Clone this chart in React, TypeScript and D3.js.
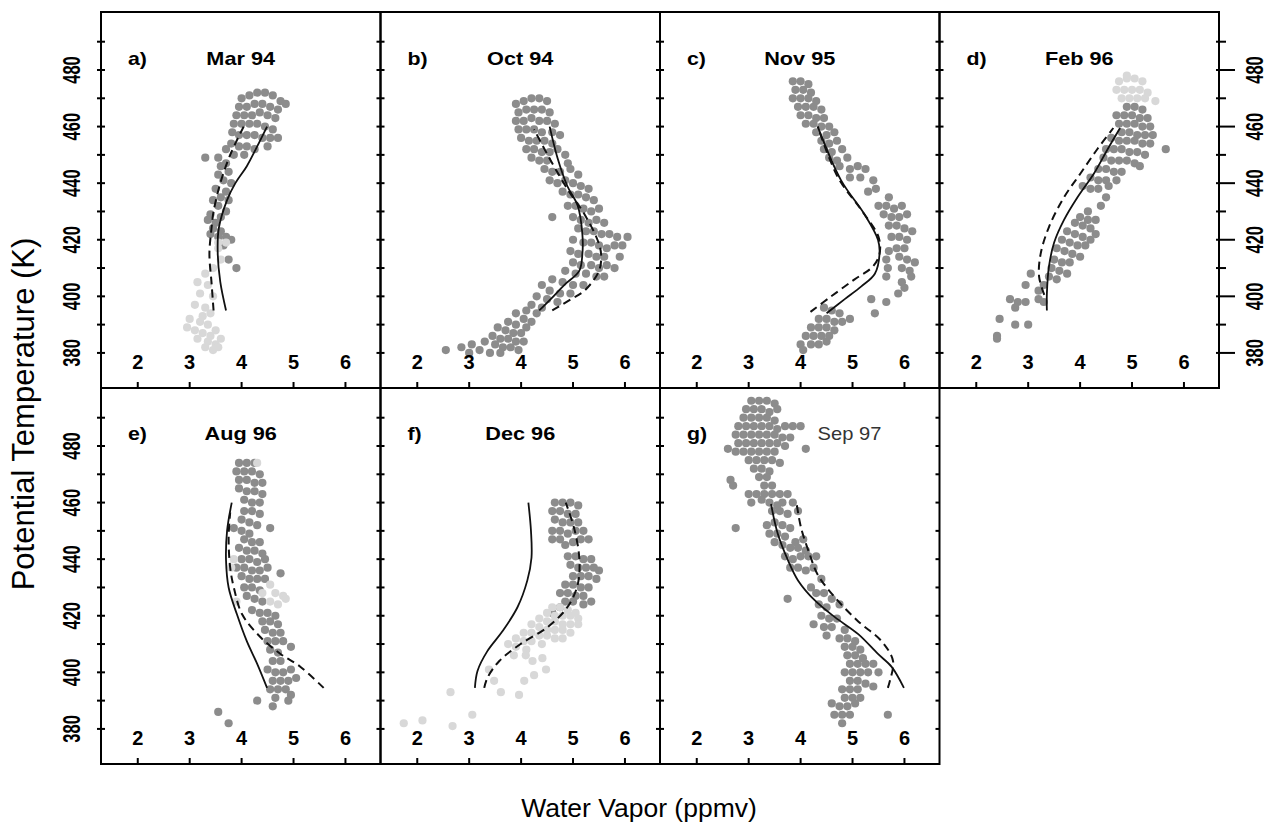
import React from 'react';
import * as d3 from 'd3';

type Pt = [number, number];

// ---- labels / ticks ----
const panelLetters = ['a)', 'b)', 'c)', 'd)', 'e)', 'f)', 'g)'];
const panelTitles = ['Mar 94', 'Oct 94', 'Nov 95', 'Feb 96', 'Aug 96', 'Dec 96', 'Sep 97'];
const xTicks = [2, 3, 4, 5, 6];
const yLabelTicks = [380, 400, 420, 440, 460, 480];
const yTicks = [380, 390, 400, 410, 420, 430, 440, 450, 460, 470, 480, 490];

// ---- a) Mar 94 ----
const marDark: Pt[] = [
  [4.0,470],[4.15,471],[4.3,472],[4.45,472],[4.6,471],[4.75,469],[4.85,468],[3.95,467],[4.1,467],[4.25,468],
  [4.4,468],[4.55,467],[4.7,466],[3.9,464],[4.05,464],[4.2,464],[4.35,465],[4.5,464],[4.65,463],[3.85,461],
  [4.0,461],[4.15,461],[4.3,461],[4.45,460],[4.6,459],[3.82,458],[3.95,457],[4.1,457],[4.25,457],[4.4,456],
  [4.55,456],[4.7,456],[3.8,454],[3.95,453],[4.1,453],[4.25,452],[4.5,453],[3.7,452],[3.85,450],[4.05,450],
  [3.3,449],[3.55,449],[3.7,447],[3.6,446],[3.75,444],[3.55,443],[3.65,441],[3.8,440],[3.5,438],[3.7,437],
  [3.6,435],[3.45,434],[3.75,434],[3.55,432],[3.7,430],[3.4,429],[3.6,428],[3.35,427],[3.5,426],[3.45,424],
  [3.6,423],[3.4,422],[3.55,421],[3.7,421],[3.8,420],[3.65,418],[3.75,413],[3.9,410],
];
const marLight: Pt[] = [
  [3.55,417],[3.6,413],[3.45,410],[3.3,408],[3.15,405],[3.35,404],[3.2,401],[3.45,400],[3.1,397],[3.3,396],
  [3.4,394],[3.0,392],[3.2,391],[3.35,390],[2.95,389],[3.1,388],[3.25,387],[3.4,386],[3.15,385],[3.35,384],
  [3.5,383],[3.3,382],[3.45,381],[3.55,382],[3.6,385],[3.5,388],[3.25,393],[3.55,419],[3.7,419],
];
const marSolid: Pt[] = [[3.70,395],[3.59,405],[3.54,415],[3.56,424],[3.72,434],[3.88,440],[4.10,446],[4.30,453],[4.49,460]];
const marDashed: Pt[] = [[3.46,395],[3.42,405],[3.38,415],[3.42,424],[3.46,430],[3.59,440],[3.78,450],[4.04,460]];

// ---- b) Oct 94 ----
const octDark: Pt[] = [
  [3.9,468],[4.05,469],[4.2,470],[4.35,470],[4.5,469],[3.95,465],[4.1,466],[4.25,466],[4.4,466],[4.55,465],
  [3.9,462],[4.05,462],[4.2,463],[4.35,462],[4.5,462],[4.65,461],[3.95,459],[4.1,459],[4.25,459],[4.4,458],
  [4.6,458],[4.75,457],[4.0,456],[4.15,455],[4.3,455],[4.45,455],[4.6,454],[4.1,452],[4.25,452],[4.4,451],
  [4.55,451],[4.7,452],[4.2,449],[4.35,448],[4.5,448],[4.85,450],[4.9,447],
  [4.45,445],[4.6,444],[4.75,444],[4.95,445],[5.1,443],[4.55,441],[4.7,440],[4.85,441],[5.0,440],[5.15,439],
  [5.3,438],[4.8,437],[4.95,436],[5.1,436],[5.25,435],[5.4,434],[4.9,432],[5.05,432],[5.2,431],[5.35,430],
  [5.5,431],[4.6,428],[5.0,428],[5.15,427],[5.3,426],[5.45,427],[5.6,426],[5.1,424],[5.25,423],[5.4,423],
  [5.55,422],[5.7,422],[5.85,421],[6.05,421],[5.0,420],[5.2,419],[5.35,419],[5.5,418],[5.65,417],[5.8,418],
  [5.95,418],[4.95,416],[5.1,415],[5.3,415],[5.45,414],[5.6,414],[5.9,414],[5.0,412],[5.15,411],[5.35,411],
  [5.5,410],[5.65,411],[5.8,410],[4.85,409],[5.05,408],[5.25,408],[5.45,407],[5.6,407],
  [4.6,406],[4.8,405],[5.0,404],[5.2,404],[4.4,404],[4.55,402],[4.75,401],[4.95,401],[4.3,400],[4.5,399],
  [4.7,398],[4.2,397],[4.4,396],[4.1,395],[4.3,394],[3.9,394],[4.05,392],[4.2,391],[3.75,391],[3.9,390],
  [4.1,389],[3.55,389],[3.7,388],[3.85,387],[4.0,387],[3.45,386],[3.6,385],[3.75,385],[3.9,384],[4.05,384],
  [3.3,384],[3.5,383],[3.65,382],[3.8,382],[3.95,381],[3.05,383],[3.2,381],[3.4,380],[3.6,380],[2.85,382],
  [3.0,380],[2.55,381],
];
const octSolid: Pt[] = [[4.35,395],[4.57,399],[4.83,404],[5.12,409],[5.18,415],[5.18,422],[5.09,432],[4.89,439],[4.70,449],[4.55,460]];
const octDashed: Pt[] = [[4.60,395],[4.96,399],[5.22,402],[5.50,409],[5.54,415],[5.47,420],[5.22,429],[4.89,438],[4.57,448],[4.25,459]];

// ---- c) Nov 95 ----
const novDark: Pt[] = [
  [3.85,476],[4.0,476],[4.15,475],[3.9,473],[4.05,473],[4.2,472],[3.85,470],[4.0,470],[4.15,470],[4.3,469],
  [3.95,467],[4.1,467],[4.25,467],[4.4,466],[4.0,464],[4.15,464],[4.3,463],[4.45,463],[4.1,461],[4.25,461],
  [4.4,460],[4.55,460],[4.3,458],[4.5,457],[4.65,458],
  [4.4,455],[4.55,454],[4.7,455],[4.45,452],[4.6,451],[4.8,452],[4.55,449],[4.7,448],[4.9,449],[4.75,446],
  [4.95,445],[5.1,446],[5.25,445],[4.95,442],[5.15,442],[5.4,441],[5.3,437],[5.45,438],
  [5.7,435],[5.5,432],[5.65,432],[5.8,431],[5.95,432],[5.6,429],[5.75,428],[5.9,428],[6.05,429],[5.7,425],
  [5.85,425],[6.0,424],[6.15,423],[5.75,421],[5.9,421],[6.05,420],[5.85,417],[6.0,417],[5.7,416],[5.9,414],
  [6.05,413],[6.2,412],[5.95,410],[6.1,409],[5.65,413],[5.68,410],[5.65,407],[5.95,405],[5.88,401],[5.65,398],
  [5.36,399],[5.43,394],[6.0,403],[6.13,407],
  [4.45,396],[4.6,395],[4.75,394],[4.35,392],[4.5,392],[4.65,391],[4.8,391],[4.95,392],[4.2,389],[4.35,389],
  [4.5,389],[4.65,388],[4.1,386],[4.25,386],[4.4,386],[4.55,386],[4.0,383],[4.2,383],[4.35,383],[4.5,384],
  [4.05,381],
];
const novSolid: Pt[] = [[4.50,394],[4.85,399],[5.17,403.5],[5.43,408],[5.52,415],[5.49,420],[5.23,429],[4.78,441],[4.33,460]];
const novDashed: Pt[] = [[4.19,394.5],[4.59,400],[5.04,406],[5.39,410.5],[5.52,415],[5.50,421],[5.17,430.5],[4.72,442],[4.33,460]];

// ---- d) Feb 96 ----
const febDark: Pt[] = [
  [4.9,467],[5.05,467],[5.2,466],[4.7,464],[4.85,464],[5.0,464],[5.15,463],[5.3,463],[4.75,461],[4.9,461],
  [5.05,461],[5.2,460],[5.35,460],[4.8,458],[4.95,458],[5.1,457],[5.25,457],[5.4,457],[4.6,456],[4.75,455],
  [4.9,455],[5.05,455],[5.2,454],[5.35,454],[5.65,452],[4.5,452],[4.65,452],[4.8,452],[4.95,451],[5.1,451],
  [5.25,450],[4.45,449],[4.6,448],[4.75,448],[4.9,448],[5.05,447],[5.15,446],
  [4.35,445],[4.5,445],[4.65,444],[4.8,444],[4.2,442],[4.35,441],[4.5,441],[4.7,441],[4.05,439],[4.2,438],
  [4.35,438],[4.55,439],[4.5,435],[4.4,432],[4.15,430],[4.0,428],[4.15,427],[4.3,427],[3.9,426],[4.05,425],
  [4.2,424],[4.3,422],[3.75,423],[3.9,422],[4.05,421],[4.2,420],[3.65,420],[3.8,419],[3.95,418],[4.1,418],
  [3.55,417],[3.7,416],[3.85,415],[4.0,414],[3.5,413],[3.65,412],[3.8,412],[3.45,410],[3.6,409],[3.75,408],
  [3.4,407],[3.55,406],[3.3,404],
  [3.05,408],[2.95,404],[3.2,402],[2.65,399],[2.8,398],[2.95,398],[3.2,399],[3.3,398],[2.75,396],[2.45,392],
  [2.75,390],[3.0,390],[2.4,386],[2.4,385],
];
const febLight: Pt[] = [
  [4.75,476],[4.9,477],[5.05,477],[5.2,476],[4.7,473],[4.85,473],[5.0,473],[5.15,473],[5.3,472],[4.8,470],
  [4.95,470],[5.1,470],[5.25,470],[5.45,469],[4.9,478],
];
const febSolid: Pt[] = [[3.36,395],[3.36,401],[3.40,410.5],[3.50,419],[3.69,427],[3.95,435],[4.27,443.5],[4.53,452],[4.77,459.5]];
const febDashed: Pt[] = [[3.31,400.5],[3.21,407],[3.24,415],[3.40,424.5],[3.69,435],[4.01,443.5],[4.33,452],[4.64,459.5]];

// ---- e) Aug 96 ----
const augDark: Pt[] = [
  [3.95,474],[4.1,474],[4.25,474],[3.9,471],[4.05,471],[4.2,471],[4.35,470],[3.95,468],[4.1,468],[4.25,467],
  [4.4,467],[3.95,465],[4.1,464],[4.25,464],[4.4,463],[4.05,461],[4.2,460],[4.35,460],[4.05,457],[4.2,457],
  [4.35,456],[4.0,454],[4.15,453],[4.3,452],[3.85,451],[4.0,450],[4.15,449],[4.55,451],[4.05,447],[4.2,446],
  [4.35,446],[3.95,444],[4.1,443],[4.25,443],[4.4,442],[4.0,440],[4.15,440],[4.3,439],[4.45,440],[3.9,437],
  [4.05,437],[4.2,436],[4.35,436],[4.5,437],[4.0,434],[4.15,433],[4.3,433],[4.45,433],[4.75,435],[4.05,430],
  [4.2,430],[4.35,429],[4.1,427],[4.25,426],[4.4,425],[4.2,422],[4.35,421],[4.5,421],[4.65,420],[4.4,418],
  [4.55,418],[4.7,417],[4.45,415],[4.6,414],[4.75,414],[4.5,411],[4.65,411],[4.8,411],[4.55,408],[4.7,407],
  [4.95,409],[4.6,404],[4.75,404],[4.5,401],[4.65,400],[4.8,400],[4.95,401],[4.6,397],[4.75,397],[4.9,397],
  [5.05,398],[4.55,394],[4.7,394],[4.85,394],[4.95,392],[4.65,391],[4.9,390],[4.6,388],[4.3,390],[3.55,386],
  [3.75,382],
];
const augLight: Pt[] = [
  [3.85,440],[3.8,437],[4.55,431],[4.65,428],[4.8,427],[4.55,425],[4.7,424],[3.9,425],[4.4,428],[4.85,426],
  [4.3,474],
];
const augSolid: Pt[] = [[4.49,394.5],[4.30,403],[4.10,411],[3.91,420.5],[3.75,430],[3.70,439.5],[3.72,450],[3.81,460]];
const augDashed: Pt[] = [[5.58,394.5],[5.13,402],[4.75,406.5],[4.36,412.5],[4.01,420.5],[3.85,430],[3.78,437],[3.75,447.5],[3.78,456.5]];

// ---- f) Dec 96 ----
const decDark: Pt[] = [
  [4.65,460],[4.8,460],[4.95,460],[5.1,459],[4.6,457],[4.75,457],[4.9,456],[5.05,456],[4.65,454],[4.8,453],
  [4.95,453],[5.1,453],[4.6,450],[4.75,450],[4.9,449],[5.05,450],[5.2,450],[4.6,447],[4.75,447],[4.85,445],
  [5.0,446],[5.15,447],[5.3,447],[4.9,441],[5.05,441],[5.2,440],[5.35,440],[4.95,438],[5.1,437],[5.25,437],
  [5.4,437],[5.5,436],[5.0,434],[5.15,434],[5.3,434],[5.45,433],[4.85,431],[5.0,431],[5.15,430],[5.3,430],
  [4.75,428],[4.9,428],[5.05,427],[5.2,427],[4.85,425],[5.0,425],[4.75,423],[4.6,421],[5.2,424],[5.35,425],
];
const decLight: Pt[] = [
  [4.6,423],[4.75,423],[4.9,422],[5.05,421],[4.5,421],[4.65,420],[4.8,420],[4.95,420],[5.1,419],[4.35,419],
  [4.5,418],[4.65,418],[4.8,417],[4.95,417],[5.1,417],[4.2,417],[4.35,416],[4.5,415],[4.65,415],[4.8,415],
  [4.95,414],[4.05,414],[4.2,414],[4.35,413],[4.5,413],[4.65,412],[4.8,412],[3.9,412],[4.05,411],[4.2,411],
  [4.4,410],[3.75,410],[3.9,409],[4.1,408],[3.86,406],[4.09,406],[4.22,404],[4.41,405],[4.48,401],[4.25,399],
  [4.06,397],[3.96,392],[3.61,393],[3.48,397],[3.38,401],[3.06,385],[2.64,393],[2.68,381],[2.10,383],[1.74,382],
];
const decSolid: Pt[] = [[3.11,394.5],[3.16,400.5],[3.35,407.5],[3.64,414.5],[3.93,423],[4.12,432.5],[4.20,440.5],[4.19,450],[4.14,460]];
const decDashed: Pt[] = [[3.29,394.5],[3.35,398],[3.58,404],[3.99,410],[4.51,416],[4.89,423],[5.09,431],[5.12,440.5],[5.02,451],[4.86,460]];

// ---- g) Sep 97 ----
const sepDark: Pt[] = [
  [3.05,496],[3.2,496],[3.35,496],[3.5,495],[2.95,493],[3.1,493],[3.25,493],[3.4,492],[3.55,493],[2.9,490],
  [3.05,490],[3.2,490],[3.35,490],[3.5,489],[2.8,487],[2.95,487],[3.1,487],[3.25,487],[3.4,487],[3.55,486],
  [3.7,487],[3.85,487],[4.0,487],[2.75,484],[2.9,484],[3.05,484],[3.2,484],[3.35,484],[3.5,484],[3.65,483],
  [3.8,483],[2.8,481],[2.95,481],[3.1,481],[3.25,481],[3.4,481],[3.55,481],[3.7,480],[2.6,479],[2.75,478],
  [2.9,478],[3.05,478],[3.2,478],[3.35,478],[3.5,478],[4.1,479],[3.0,475],[3.15,475],[3.3,475],[3.45,475],
  [3.6,474],[3.1,472],[3.25,472],[3.4,471],[3.2,469],[3.35,469],[2.65,468],[2.7,466],[3.3,466],[3.45,466],
  [3.0,463],[3.15,463],[3.3,463],[3.45,463],[3.6,463],[3.75,463],[3.05,460],[3.25,461],[3.4,460],[3.55,459],
  [3.65,460],[3.85,460],[3.45,457],[3.6,457],[3.75,456],[3.95,457],[2.75,451],[3.35,452],[3.5,453],[3.65,452],
  [3.8,451],[3.4,449],[3.55,449],[3.7,448],[3.9,446],[4.05,447],[3.5,446],[3.65,445],[3.8,444],[3.95,444],
  [4.1,443],[3.7,441],[3.85,440],[4.0,441],[4.15,441],[4.3,441],[3.8,437],[3.95,437],[4.1,436],[4.25,437],
  [4.4,433],[4.2,430],[3.75,426],
  [4.3,428],[4.45,428],[4.6,426],[4.35,424],[4.5,423],[4.75,424],[4.4,420],[4.55,419],[4.7,419],[4.25,417],
  [4.45,416],[4.6,416],[4.85,415],[4.5,413],[4.75,412],[4.9,412],[5.05,411],[4.85,409],[5.0,409],[5.15,408],
  [4.9,406],[5.05,406],[5.2,405],[4.95,403],[5.1,403],[5.25,403],[5.4,403],[4.85,400],[5.0,400],[5.15,400],
  [5.3,400],[5.5,400],[4.95,397],[5.1,397],[5.25,396],[4.8,394],[4.95,394],[5.1,394],[5.4,395],[4.85,391],
  [5.0,391],[5.15,391],[4.6,389],[4.75,388],[4.9,388],[5.05,389],[4.65,385],[4.8,385],[4.95,385],[4.8,382],
  [5.68,385],
];
const sepSolid: Pt[] = [[5.99,394.5],[5.75,402],[5.49,406.5],[5.11,413.5],[4.66,419.5],[4.27,425.5],[3.95,432.5],[3.76,439.5],[3.56,449],[3.43,459.5]];
const sepDashed: Pt[] = [[5.68,394.5],[5.72,397],[5.78,404],[5.56,411],[5.11,418],[4.66,426.5],[4.33,434.5],[4.17,442],[4.01,451],[3.92,460]];

const panelDark = [marDark, octDark, novDark, febDark, augDark, decDark, sepDark];
const panelLight = [marLight, [], [], febLight, augLight, decLight, []];
const panelSolid = [marSolid, octSolid, novSolid, febSolid, augSolid, decSolid, sepSolid];
const panelDashed = [marDashed, octDashed, novDashed, febDashed, augDashed, decDashed, sepDashed];

// ---- layout ----
const W = 1269;
const H = 824;
const LEFT = 101;
const TOP = 12;
const PW = 279.5;
const PH = 376;
const FONT = 'Liberation Sans, Arial, Helvetica, sans-serif';

const x = d3.scaleLinear().domain([1.292, 6.675]).range([0, PW]);
const y = d3.scaleLinear().domain([367.6, 500.5]).range([PH, 0]);

const line = d3.line<Pt>()
  .x(d => x(d[0]))
  .y(d => y(d[1]))
  .curve(d3.curveCatmullRom.alpha(0.5));

const Panel = ({ i }: { i: number }) => {
  const col = i < 4 ? i : i - 4;
  const row = i < 4 ? 0 : 1;
  const px = LEFT + col * PW;
  const py = TOP + row * PH;
  const isG = i === 6;
  const tx = isG ? 189.5 : PW / 2;
  return (
    <g transform={`translate(${px},${py})`}>
      <clipPath id={`clip${i}`}>
        <rect x={0} y={0} width={PW} height={PH} />
      </clipPath>
      <g clipPath={`url(#clip${i})`}>
        {panelDark[i].map((d, k) => (
          <circle key={'d' + k} cx={x(d[0])} cy={y(d[1])} r={4.1} fill="#8c8c8c" />
        ))}
        {(panelLight[i] as Pt[]).map((d, k) => (
          <circle key={'l' + k} cx={x(d[0])} cy={y(d[1])} r={4.1} fill="#d8d8d8" />
        ))}
        <path d={line(panelSolid[i]) || ''} fill="none" stroke="#111" strokeWidth={1.8} />
        <path d={line(panelDashed[i]) || ''} fill="none" stroke="#111" strokeWidth={2} strokeDasharray="8 5" />
      </g>

      {/* panel letter and date */}
      <text x={27} y={row === 0 ? 53 : 52} fontFamily={FONT} fontSize={17.5} fontWeight="bold"
        transform={`translate(27,0) scale(1.22,1) translate(-27,0)`}>{panelLetters[i]}</text>
      <text x={tx} y={row === 0 ? 53 : 52} fontFamily={FONT} fontSize={17.5}
        fontWeight={isG ? 'normal' : 'bold'} fill={isG ? '#333' : '#000'} textAnchor="middle"
        transform={`translate(${tx},0) scale(${isG ? 1.15 : 1.24},1) translate(${-tx},0)`}>
        {panelTitles[i]}
      </text>

      {/* x ticks and labels */}
      {xTicks.map(t => (
        <g key={'x' + t}>
          <line x1={x(t)} x2={x(t)} y1={PH} y2={PH - 6} stroke="#000" strokeWidth={2} />
          <text x={x(t)} y={PH - 19} textAnchor="middle" fontFamily={FONT} fontSize={20} fontWeight="bold">{t}</text>
        </g>
      ))}

      {/* y ticks on left edge */}
      {yTicks.map(t => (
        <line key={'yl' + t} x1={-4} x2={4} y1={y(t)} y2={y(t)} stroke="#000" strokeWidth={2} />
      ))}
      {/* right edge ticks */}
      {i === 3 && yTicks.map(t => (
        <line key={'yr' + t} x1={PW - 3} x2={PW + (t % 20 === 0 ? 16 : 7)} y1={y(t)} y2={y(t)} stroke="#000" strokeWidth={2} />
      ))}
      {isG && yTicks.map(t => (
        <line key={'yg' + t} x1={PW - 4} x2={PW} y1={y(t)} y2={y(t)} stroke="#000" strokeWidth={2} />
      ))}

      {/* y labels */}
      {(i === 0 || i === 4) && yLabelTicks.map(t => (
        <text key={'ll' + t} fontFamily={FONT} fontSize={23} fontWeight="bold" textAnchor="middle"
          transform={`translate(-21,${y(t)}) rotate(-90) scale(0.72,1)`}>{t}</text>
      ))}
      {i === 3 && yLabelTicks.map(t => (
        <text key={'rl' + t} fontFamily={FONT} fontSize={23} fontWeight="bold" textAnchor="middle"
          transform={`translate(${PW + 44},${y(t)}) rotate(-90) scale(0.72,1)`}>{t}</text>
      ))}

      <rect x={0} y={0} width={PW} height={PH} fill="none" stroke="#000" strokeWidth={2} />
    </g>
  );
};

const App = () => (
  <svg width={W} height={H} style={{ position: 'absolute', left: 0, top: 0, background: '#fff' }}>
    <rect x={0} y={0} width={W} height={H} fill="#fff" />
    {panelTitles.map((_, i) => <Panel key={i} i={i} />)}
    <text fontFamily={FONT} fontSize={31} textAnchor="middle"
      transform={`translate(34,414) rotate(-90)`}>Potential Temperature (K)</text>
    <text x={639} y={817} fontFamily={FONT} fontSize={26.5} textAnchor="middle">Water Vapor (ppmv)</text>
  </svg>
);

export default App;
